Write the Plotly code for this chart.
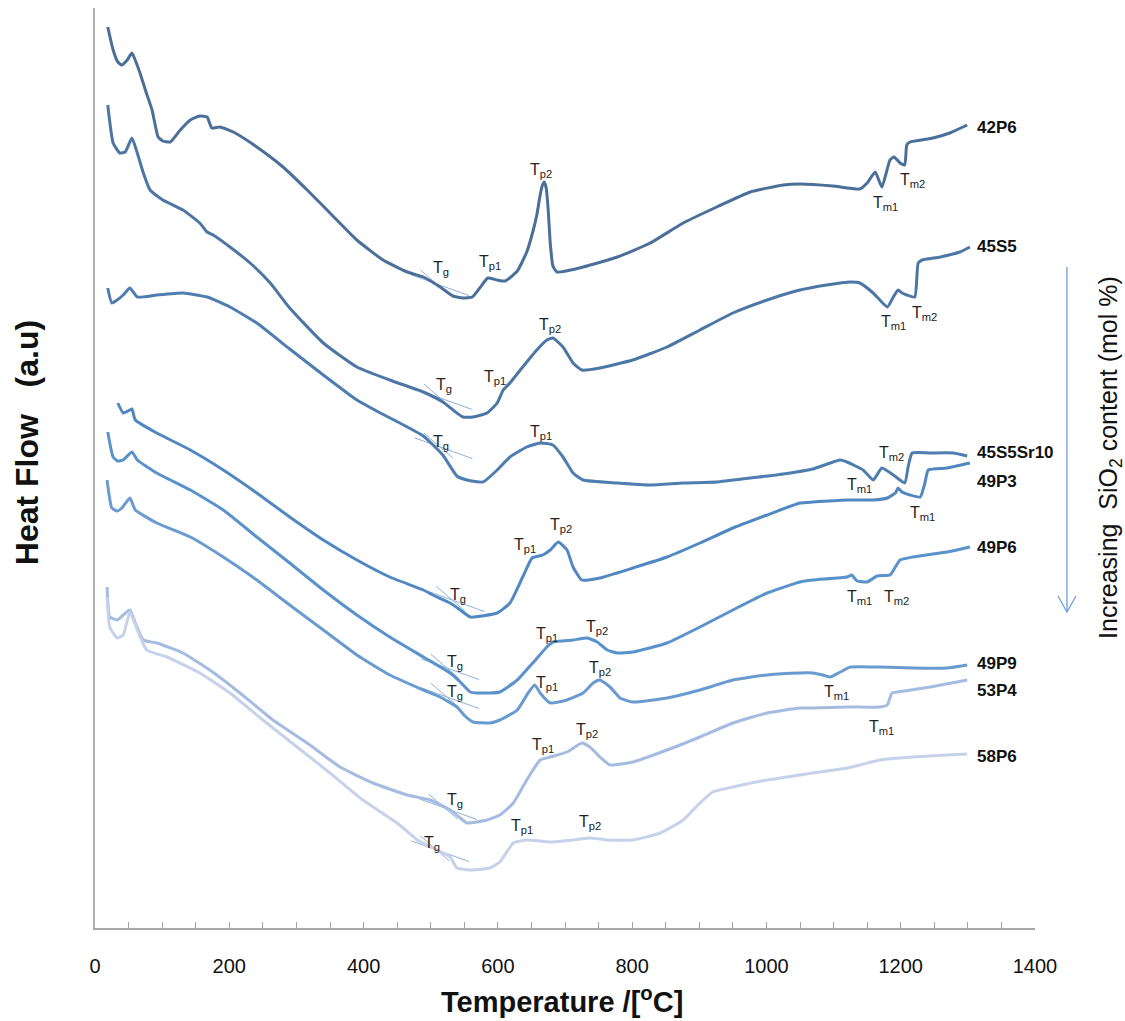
import plotly.graph_objects as go

# ---------------- data (temperature in degC, heat flow in a.u.) ----------------
SAMPLES = ["42P6", "45S5", "45S5Sr10", "49P3", "49P6", "49P9", "53P4", "58P6"]

T_42P6 = [19, 27, 34, 40, 48, 55, 61, 67, 76, 85, 94, 101, 112, 127, 142, 156, 167, 174, 186, 206,
          241, 280, 316, 350, 390, 429, 465, 489, 514, 533, 548, 562, 573, 585, 599, 611, 629, 643,
          652, 658, 663, 666, 669, 672, 675, 678, 682, 688, 727, 778, 827, 876, 926, 976, 1025, 1050,
          1099, 1139, 1150, 1162, 1172, 1184, 1190, 1199, 1206, 1209, 1214, 1248, 1273, 1299]
HF_42P6 = [901, 878, 866, 863, 868, 875, 866, 855, 836, 818, 791, 787, 786, 798, 808, 812, 811, 800, 801, 796,
           781, 761, 738, 715, 688, 668, 656, 651, 641, 632, 630, 631, 640, 650, 648, 647, 657, 676,
           696, 713, 733, 742, 746, 740, 718, 685, 662, 656, 661, 671, 685, 705, 721, 736, 743, 744,
           742, 739, 745, 756, 741, 768, 771, 765, 763, 783, 786, 790, 795, 803]

T_45S5 = [19, 27, 37, 45, 55, 63, 72, 82, 101, 131, 156, 167, 176, 201, 231, 261, 290, 340, 390, 439,
          489, 518, 539, 548, 563, 584, 599, 608, 618, 637, 658, 673, 682, 697, 712, 725, 752, 801,
          852, 901, 950, 1001, 1050, 1090, 1125, 1139, 1159, 1180, 1189, 1196, 1202, 1209, 1221, 1226,
          1232, 1259, 1288, 1303]
HF_45S5 = [823, 785, 775, 776, 790, 775, 755, 738, 728, 718, 705, 696, 693, 681, 665, 645, 620, 585, 561, 548,
           536, 526, 515, 511, 511, 515, 525, 538, 545, 561, 578, 588, 590, 581, 565, 558, 560, 568,
           581, 598, 615, 628, 638, 643, 646, 645, 635, 621, 631, 638, 635, 633, 631, 665,
           668, 671, 676, 681]

T_45S5Sr10 = [19, 25, 33, 42, 52, 63, 92, 131, 167, 201, 241, 290, 340, 390, 425, 454, 489, 518, 539, 554,
              578, 599, 618, 643, 663, 682, 697, 712, 727, 778, 827, 876, 926, 976, 1025, 1069, 1110, 1120,
              1144, 1159, 1172, 1189, 1206, 1211, 1217, 1244, 1278, 1299]
HF_45S5Sr10 = [640, 625, 628, 633, 640, 631, 633, 635, 631, 621, 605, 579, 553, 528, 515, 505, 492, 473, 452, 448,
               446, 458, 471, 481, 485, 483, 471, 455, 448, 445, 443, 445, 446, 450, 454, 459, 468, 466,
               458, 448, 460, 453, 445, 461, 475, 475, 475, 472]

T_49P3 = [34, 42, 49, 55, 60, 92, 142, 191, 241, 290, 340, 390, 439, 489, 503, 529, 544, 559, 599, 618,
          637, 651, 667, 678, 690, 703, 712, 725, 752, 801, 852, 901, 950, 1001, 1050, 1069, 1120, 1159,
          1180, 1192, 1196, 1202, 1214, 1229, 1236, 1241, 1269, 1303]
HF_49P3 = [525, 515, 517, 519, 508, 495, 478, 458, 435, 411, 388, 368, 351, 338, 333, 325, 318, 311, 315, 325,
           351, 370, 373, 378, 386, 378, 361, 348, 350, 360, 371, 385, 400, 413, 425, 426, 428, 428,
           430, 435, 440, 436, 433, 431, 445, 458, 460, 465]

T_49P6 = [19, 27, 34, 42, 55, 63, 92, 142, 191, 241, 290, 340, 390, 439, 489, 529, 544, 559, 588, 603,
          629, 652, 673, 682, 712, 733, 748, 763, 778, 801, 852, 901, 950, 1001, 1050, 1069, 1120, 1127,
          1135, 1150, 1165, 1184, 1192, 1199, 1218, 1269, 1303]
HF_49P6 = [496, 471, 467, 468, 476, 468, 455, 438, 418, 391, 365, 338, 313, 291, 271, 255, 246, 236, 235, 236,
           248, 265, 281, 286, 288, 290, 286, 278, 275, 276, 285, 301, 318, 335, 346, 348, 351, 353,
           347, 346, 352, 353, 361, 368, 371, 376, 381]

T_49P9 = [18, 25, 33, 40, 52, 60, 92, 142, 191, 241, 290, 340, 390, 439, 489, 514, 539, 551, 563, 588,
          603, 629, 645, 655, 663, 678, 703, 727, 742, 752, 767, 782, 801, 852, 901, 950, 1001, 1050,
          1069, 1084, 1095, 1110, 1125, 1169, 1218, 1269, 1299]
HF_49P9 = [448, 420, 417, 420, 430, 418, 405, 391, 371, 348, 323, 298, 273, 253, 238, 231, 221, 212, 206, 205,
           208, 218, 235, 243, 235, 225, 228, 235, 245, 248, 241, 230, 226, 230, 238, 248, 253, 255,
           255, 253, 251, 256, 261, 261, 260, 260, 263]

T_53P4 = [18, 22, 33, 42, 52, 60, 72, 92, 131, 171, 216, 265, 316, 365, 414, 465, 499, 529, 544, 554,
          584, 603, 623, 643, 663, 678, 703, 725, 737, 752, 767, 801, 852, 901, 950, 1001, 1050, 1069,
          1120, 1169, 1180, 1187, 1195, 1244, 1299]
HF_53P4 = [341, 311, 308, 313, 318, 305, 288, 285, 275, 258, 235, 208, 185, 161, 145, 133, 128, 118, 110, 105,
           108, 113, 125, 148, 168, 171, 176, 185, 181, 171, 163, 166, 178, 191, 205, 215, 220, 220,
           221, 221, 223, 235, 236, 241, 248]

T_58P6 = [18, 22, 33, 42, 52, 63, 77, 107, 156, 201, 250, 301, 350, 399, 450, 480, 509, 529, 539, 563,
          588, 603, 623, 643, 678, 712, 737, 763, 801, 842, 876, 901, 920, 950, 1001, 1050, 1069, 1120,
          1139, 1169, 1218, 1269, 1299]
HF_58P6 = [331, 301, 290, 293, 316, 298, 278, 271, 255, 235, 208, 181, 155, 128, 105, 88, 78, 71, 60, 58,
           60, 66, 85, 88, 86, 88, 90, 88, 88, 95, 108, 125, 136, 141, 148, 153, 155, 160,
           163, 168, 171, 173, 174]

# Tg onset points (T, HF) where the two tangent lines cross
TG_T = [509, 514, 514, 532, 524, 524, 521, 509]
TG_HF = [644, 530, 481, 328, 260, 231, 120, 78]

X_TICKS = [0, 200, 400, 600, 800, 1000, 1200, 1400]

# ---------------- style ----------------
COLORS = ["#4a6f98", "#4c76a4", "#4e7db0", "#5288c2", "#5a92cc", "#6a9bd0", "#a4bce0", "#c6d2ea"]
FONT = "Liberation Sans, Arial, sans-serif"

series = [(T_42P6, HF_42P6), (T_45S5, HF_45S5), (T_45S5Sr10, HF_45S5Sr10), (T_49P3, HF_49P3),
          (T_49P6, HF_49P6), (T_49P9, HF_49P9), (T_53P4, HF_53P4), (T_58P6, HF_58P6)]

fig = go.Figure()

# Tg tangent construction lines (thin)
for t0, h0 in zip(TG_T, TG_HF):
    for (dl, dr, slope) in [(-38, 48, -0.24), (-24, 19, -0.58)]:
        fig.add_trace(go.Scatter(
            x=[t0 + dl, t0 + dr], y=[h0 + dl * slope, h0 + dr * slope],
            mode="lines", line=dict(color="#8fb0d8", width=1), hoverinfo="skip", showlegend=False))

for name, (tx, hy), col in zip(SAMPLES, series, COLORS):
    fig.add_trace(go.Scatter(x=tx, y=hy, mode="lines", name=name,
                             line=dict(color=col, width=3, shape="spline", smoothing=0.45),
                             showlegend=False))

ann = []
# sample names at curve ends
LABEL_HF = [801, 682, 476, 447, 381, 265, 238, 172]
for name, h in zip(SAMPLES, LABEL_HF):
    ann.append(dict(x=1311, y=h, xref="x", yref="y", text="<b>%s</b>" % name, showarrow=False,
                    xanchor="left", yanchor="middle", font=dict(size=17, color="#111", family=FONT)))

# event labels (T, HF, text)
events = [
    (515, 660, "g"), (588, 666, "p1"), (664, 758, "p2"), (1177, 725, "m1"), (1218, 748, "m2"),
    (520, 543, "g"), (596, 551, "p1"), (678, 603, "p2"), (1189, 606, "m1"), (1236, 615, "m2"),
    (515, 486, "g"), (664, 496, "p1"), (1139, 443, "m1"), (1187, 475, "m2"),
    (541, 333, "g"), (640, 383, "p1"), (694, 403, "p2"), (1233, 415, "m1"),
    (536, 266, "g"), (673, 294, "p1"), (748, 301, "p2"), (1139, 331, "m1"), (1194, 331, "m2"),
    (536, 236, "g"), (673, 245, "p1"), (752, 260, "p2"), (1105, 236, "m1"),
    (536, 128, "g"), (667, 183, "p1"), (733, 198, "p2"), (1172, 201, "m1"),
    (502, 85, "g"), (636, 102, "p1"), (737, 106, "p2"),
]
for tx, hy, sub in events:
    ann.append(dict(x=tx, y=hy, xref="x", yref="y", text="T<sub>%s</sub>" % sub, showarrow=False,
                    xanchor="center", yanchor="middle", font=dict(size=16, color="#222", family=FONT)))

# axis titles and side note
ann.append(dict(x=-0.0723, y=0.527, xref="paper", yref="paper", textangle=-90, showarrow=False,
                text="<b>Heat Flow\u00a0\u00a0\u00a0(a.u)</b>", xanchor="center", yanchor="middle",
                font=dict(size=32, color="#111", family=FONT)))
ann.append(dict(x=0.4968, y=-0.078, xref="paper", yref="paper", showarrow=False,
                text="<b>Temperature /[<sup>o</sup>C]</b>", xanchor="center", yanchor="middle",
                font=dict(size=29, color="#111", family=FONT)))
ann.append(dict(x=1.0798, y=0.511, xref="paper", yref="paper", textangle=-90, showarrow=False,
                text="Increasing\u00a0\u00a0SiO<sub>2</sub> content (mol %)", xanchor="center", yanchor="middle",
                font=dict(size=25, color="#111", family=FONT)))

shapes = [
    dict(type="line", xref="paper", yref="paper", x0=1.034, x1=1.034, y0=0.7185, y1=0.3435,
         line=dict(color="#6c9ed6", width=1.3)),
    dict(type="path", xref="paper", yref="paper",
         path="M 1.0245 0.3609 L 1.034 0.3435 L 1.0436 0.3609", line=dict(color="#6c9ed6", width=1.3)),
]

fig.update_layout(
    width=1125, height=1021,
    margin=dict(l=95, r=90, t=8, b=93),
    paper_bgcolor="white", plot_bgcolor="white",
    annotations=ann, shapes=shapes,
    font=dict(family=FONT),
)
fig.update_xaxes(range=[0, 1400], tickvals=X_TICKS, ticks="inside", ticklen=6, tickcolor="#a0a0a0",
                 minor=dict(dtick=50, ticks="inside", ticklen=6, tickcolor="#a0a0a0"),
                 showline=True, linecolor="#a8a8a8", linewidth=1.5, showgrid=False, zeroline=False,
                 tickfont=dict(size=20, color="#111", family=FONT), ticklabelstandoff=19)
fig.update_yaxes(range=[0, 920], showline=True, linecolor="#b0b0b0", linewidth=1.5, showgrid=False,
                 zeroline=False, showticklabels=False, ticks="")

fig.write_html("out.html", config={"displayModeBar": False},
               post_script="document.body.style.margin='0';document.body.style.padding='0';"
                           "document.body.style.overflow='hidden';")
